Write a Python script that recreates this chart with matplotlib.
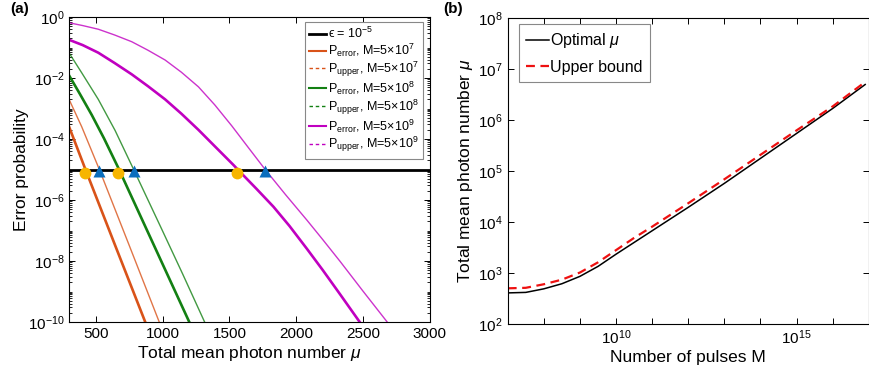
import matplotlib
matplotlib.use("Agg")
import matplotlib.pyplot as plt
from matplotlib.lines import Line2D
from matplotlib.ticker import (FixedLocator, FixedFormatter, LogLocator,
                               LogFormatterMathtext, NullLocator, NullFormatter)

plt.rcParams["font.family"] = ["Liberation Sans", "DejaVu Sans"]
plt.rcParams["mathtext.fontset"] = "custom"
plt.rcParams["mathtext.rm"] = "Liberation Sans"
plt.rcParams["mathtext.it"] = "Liberation Sans:italic"
plt.rcParams["mathtext.bf"] = "Liberation Sans:bold"

# ---- panel (a): error probability vs total mean photon number (log10 values) ----
EPS = 1e-5
MU_XLIM = (300, 3000)

mu_err_m7 = [300, 420, 640, 868]
lp_err_m7 = [-3.62, -4.99, -7.45, -9.99]
mu_up_m7 = [300, 393, 525, 750, 973]
lp_up_m7 = [-2.72, -3.60, -5.0, -7.50, -9.99]

mu_err_m8 = [300, 380, 468, 560, 663, 900, 1198]
lp_err_m8 = [-1.93, -2.53, -3.21, -3.98, -4.91, -7.16, -9.99]
mu_up_m8 = [300, 393, 517, 643, 780, 993, 1150, 1313]
lp_up_m8 = [-1.19, -1.83, -2.70, -3.72, -4.98, -6.96, -8.43, -9.99]

mu_err_m9 = [300, 400, 517, 640, 768, 890, 1018, 1140, 1268, 1400, 1530, 1580,
             1700, 1830, 1950, 2081, 2200, 2331, 2475]
lp_err_m9 = [-0.75, -0.92, -1.17, -1.51, -1.88, -2.27, -2.70, -3.17, -3.70, -4.28,
             -4.85, -5.08, -5.62, -6.22, -6.85, -7.60, -8.30, -9.10, -9.99]
mu_up_m9 = [300, 400, 517, 640, 768, 890, 1018, 1140, 1268, 1390, 1518, 1640,
            1768, 1920, 2081, 2200, 2331, 2500, 2681]
lp_up_m9 = [-0.19, -0.28, -0.40, -0.59, -0.81, -1.09, -1.41, -1.81, -2.29, -2.88,
            -3.57, -4.27, -5.0, -5.82, -6.66, -7.30, -8.02, -8.98, -9.99]

circle_mu = [418, 665, 1558]
tri_mu = [525, 785, 1768]
CIRCLE_LP = -5.13
TRI_LP = -5.06

# ---- panel (b): optimal mu vs number of pulses (log10 values) ----
M_XLIM = (1e7, 1e17)
logM = [7, 7.5, 8, 8.5, 9, 9.5, 10, 10.5, 11, 12, 13, 14, 15, 16, 16.9]
log_mu_opt = [2.61, 2.62, 2.69, 2.79, 2.935, 3.13, 3.37, 3.60, 3.83, 4.29, 4.76,
              5.25, 5.74, 6.23, 6.70]
log_mu_up = [2.70, 2.71, 2.78, 2.87, 3.01, 3.21, 3.45, 3.69, 3.91, 4.37, 4.84,
             5.32, 5.80, 6.27, 6.75]

ORANGE, GREEN, MAGENTA = "#D95319", "#138013", "#C000C0"


def pw(vals):
    return [10.0**v for v in vals]


fig = plt.figure(figsize=(8.7, 3.8), dpi=100)
ax = fig.add_axes([0.0797, 0.1526, 0.414, 0.8026])
bx = fig.add_axes([0.5836, 0.1474, 0.4150, 0.8045])

# panel (a)
ax.axhline(EPS, color="black", lw=2.0, zorder=3)
for mu_e, p_e, mu_u, p_u, c in ((mu_err_m7, lp_err_m7, mu_up_m7, lp_up_m7, ORANGE),
                                (mu_err_m8, lp_err_m8, mu_up_m8, lp_up_m8, GREEN),
                                (mu_err_m9, lp_err_m9, mu_up_m9, lp_up_m9, MAGENTA)):
    ax.plot(mu_e, pw(p_e), color=c, lw=1.9, zorder=2)
    ax.plot(mu_u, pw(p_u), color=c, lw=1.0, alpha=0.8, zorder=2)
ax.plot(circle_mu, pw([CIRCLE_LP] * len(circle_mu)), "o", color="#F7B500", ms=8.5,
        mec="none", zorder=4)
ax.plot(tri_mu, pw([TRI_LP] * len(tri_mu)), "^", color="#0A6EBD", ms=8.5,
        mec="none", zorder=4)

ax.set_yscale("log")
ax.set_xlim(*MU_XLIM)
ax.set_ylim(1e-10, 1)
ax.xaxis.set_major_locator(FixedLocator([500, 1000, 1500, 2000, 2500, 3000]))
ax.yaxis.set_major_locator(FixedLocator([1e-10, 1e-8, 1e-6, 1e-4, 1e-2, 1]))
ax.yaxis.set_major_formatter(LogFormatterMathtext())
ax.yaxis.set_minor_locator(LogLocator(base=10, subs=range(1, 10), numticks=30))
ax.yaxis.set_minor_formatter(NullFormatter())
ax.set_xlabel(r"Total mean photon number $\mu$", fontsize=12.5, labelpad=2)
ax.set_ylabel("Error probability", fontsize=12.5, labelpad=-1)

handles = [Line2D([], [], color="black", lw=2.0)]
labels = ["ϵ = 10$^{-5}$"]
for c, m in ((ORANGE, 7), (GREEN, 8), (MAGENTA, 9)):
    handles += [Line2D([], [], color=c, lw=1.5),
                Line2D([], [], color=c, lw=1.0, ls=(0, (2.5, 2)))]
    labels += [r"P$_{\rm error}$, M=5$\times$10$^{%d}$" % m,
               r"P$_{\rm upper}$, M=5$\times$10$^{%d}$" % m]
leg = ax.legend(handles, labels, loc="upper right", bbox_to_anchor=(0.981, 0.985),
                borderaxespad=0, fontsize=9, handlelength=1.35, handletextpad=0.15,
                labelspacing=0.05, borderpad=0.35, fancybox=False, framealpha=1)
leg.get_frame().set_edgecolor("#888888")
leg.get_frame().set_linewidth(0.8)

# panel (b)
M = pw(logM)
bx.plot(M, pw(log_mu_opt), color="black", lw=1.1, label=r"Optimal $\mu$")
bx.plot(M, pw(log_mu_up), color="#EE1111", lw=1.6, ls=(0, (4, 2.5)),
        label="Upper bound")
bx.set_xscale("log")
bx.set_yscale("log")
bx.set_xlim(*M_XLIM)
bx.set_ylim(1e2, 1e8)
decades = list(range(7, 18))
bx.xaxis.set_major_locator(FixedLocator([10.0**k for k in decades]))
bx.xaxis.set_major_formatter(FixedFormatter(
    [r"10$^{%d}$" % k if k in (10, 15) else "" for k in decades]))
bx.xaxis.set_minor_locator(NullLocator())
bx.yaxis.set_major_locator(FixedLocator([10.0**k for k in range(2, 9)]))
bx.yaxis.set_major_formatter(LogFormatterMathtext())
bx.yaxis.set_minor_locator(NullLocator())
bx.set_xlabel("Number of pulses M", fontsize=12.5, labelpad=2)
bx.set_ylabel(r"Total mean photon number $\mu$", fontsize=12.5, labelpad=2)
leg2 = bx.legend(loc="upper left", bbox_to_anchor=(0.032, 0.981), borderaxespad=0,
                 fontsize=11.5, handlelength=1.4, handletextpad=0.1,
                 labelspacing=0.6, borderpad=0.45, fancybox=False, framealpha=1)
leg2.get_frame().set_edgecolor("#888888")
leg2.get_frame().set_linewidth(0.8)

for a in (ax, bx):
    a.tick_params(which="both", direction="in", top=True, right=True, labelsize=11)
    a.tick_params(which="major", length=4, width=0.7)
    a.tick_params(which="minor", length=2, width=0.6)
    for s in a.spines.values():
        s.set_linewidth(0.8)

fig.text(0.012, 0.965, "(a)", fontsize=11, fontweight="bold")
fig.text(0.510, 0.965, "(b)", fontsize=11, fontweight="bold")

fig.savefig("out.png", dpi=100)
